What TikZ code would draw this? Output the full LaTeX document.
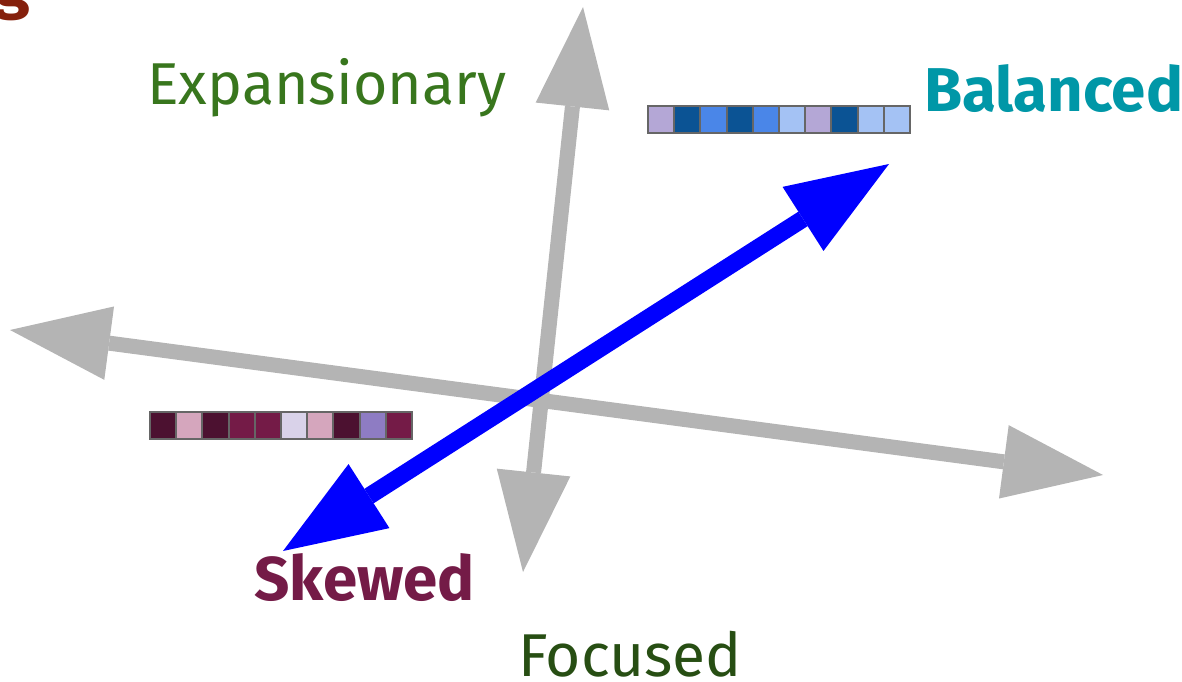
\documentclass[tikz,border=0pt]{standalone}
\usepackage{fontspec}
\setmainfont{Fira Sans}
\usepackage{xcolor}
\usetikzlibrary{arrows.meta, positioning}
\definecolor{axisgray}{HTML}{B4B4B4}
\definecolor{cellborder}{HTML}{666666}
\definecolor{expgreen}{HTML}{38761D}
\definecolor{focgreen}{HTML}{274E13}
\definecolor{balteal}{HTML}{0097A7}
\definecolor{skewmag}{HTML}{741B47}
\definecolor{berry}{HTML}{85200C}
\tikzstyle{axis} = [draw=axisgray, line width=0.375cm, {Triangle[length=2.5cm,width=1.85cm,line width=0pt]}-{Triangle[length=2.5cm,width=1.85cm,line width=0pt]}]
\tikzstyle{bluearrow} = [draw=blue, line width=0.43cm, {Triangle[length=2.55cm,width=1.9cm,line width=0pt]}-{Triangle[length=2.55cm,width=1.9cm,line width=0pt]}]
\tikzstyle{cell} = [rectangle, draw=cellborder, line width=0.05cm, minimum width=0.655cm, minimum height=0.675cm, inner sep=0pt, anchor=north west]
\tikzstyle{labeltext} = [inner sep=0pt, anchor=base west]

\begin{document}
\begin{tikzpicture}[x=0.025cm, y=-0.025cm]
\useasboundingbox (0,0) rectangle (1182,682);
\clip (0,0) rectangle (1182,682);
% axis end points
\coordinate (north) at (583,7);
\coordinate (south) at (523,572);
\coordinate (west) at (10,330);
\coordinate (east) at (1103,475);
\coordinate (skew) at (283,551);
\coordinate (bal) at (889,164);
\draw [axis] (south) -- (north);
\draw [axis] (west) -- (east);
\draw [bluearrow] (skew) -- (bal);
% colour strips
\foreach \c [count=\i from 0] in {B4A7D6,0B5394,4A86E8,0B5394,4A86E8,A4C2F4,B4A7D6,0B5394,A4C2F4,A4C2F4}{
  \definecolor{cellc}{HTML}{\c}
  \node (top\i) [cell, fill=cellc] at (647+26.2*\i,105) {};
}
\foreach \c [count=\i from 0] in {4C1130,D5A6BD,4C1130,741B47,741B47,D9D2E9,D5A6BD,4C1130,8E7CC3,741B47}{
  \definecolor{cellc}{HTML}{\c}
  \node (bot\i) [cell, fill=cellc] at (149+26.2*\i,411) {};
}
% labels
\node (exp) [labeltext, text=expgreen, font=\fontsize{42}{50}\selectfont] at (147,105) {Expansionary};
\node (balanced) [labeltext, text=balteal, font=\fontsize{44}{50}\selectfont\bfseries] at (924,112) {Balanced};
\node (skewed) [labeltext, text=skewmag, font=\fontsize{44}{50}\selectfont\bfseries] at (254,600) {Skewed};
\node (focused) [labeltext, text=focgreen, font=\fontsize{43}{50}\selectfont] at (518,676) {Focused};
\node (corner) [inner sep=0pt, anchor=base east, text=berry, font=\fontsize{46}{50}\selectfont\bfseries] at (30,7) {g};
\end{tikzpicture}
\end{document}
